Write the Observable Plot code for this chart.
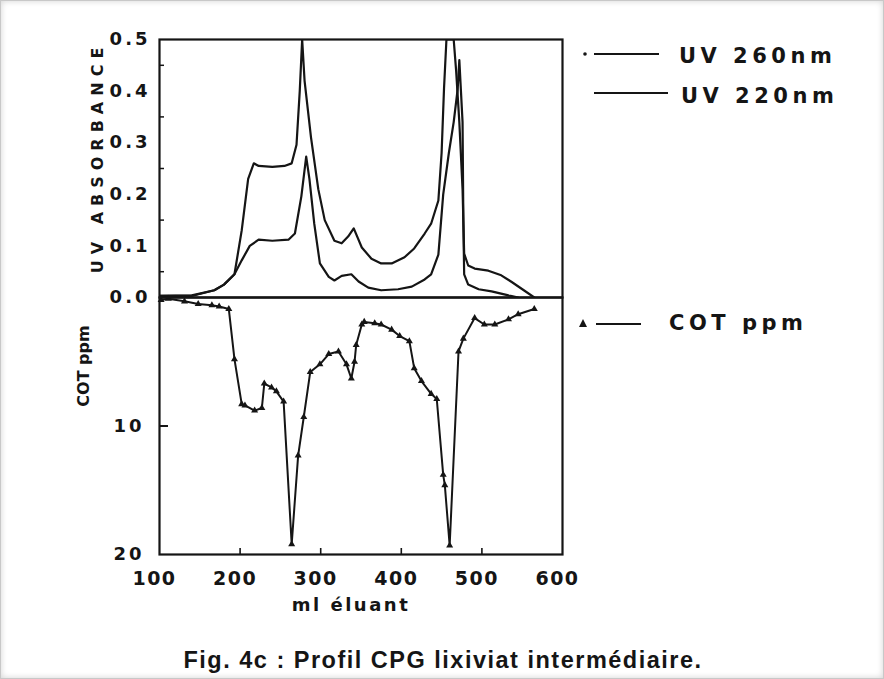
<!DOCTYPE html>
<html>
<head>
<meta charset="utf-8">
<script src="https://cdn.jsdelivr.net/npm/d3@7"></script>
<script src="https://cdn.jsdelivr.net/npm/@observablehq/plot@0.6"></script>
<style>
  html, body { margin: 0; padding: 0; background: #fff; }
  #wrap { position: relative; width: 882px; height: 677px; overflow: hidden; background: #fff;
          border: 1px solid #c8c8c8; box-shadow: inset 0 0 6px rgba(0,0,0,0.18);
          font-family: "DejaVu Sans", sans-serif; color: #151515; }
  #wrap > svg { position: absolute; left: 0; top: 0; overflow: visible; }
  g[aria-label="y-axis tick label"] text { letter-spacing: 3px; }
  g[aria-label="x-axis tick label"] text { letter-spacing: 1.5px; }
  .legend text { font-family: "DejaVu Sans", sans-serif; font-weight: bold; font-size: 21px; letter-spacing: 4.5px; fill: #151515; }
  #caption { position: absolute; left: 0; width: 884px; top: 646px; text-align: center;
             font-family: "Liberation Sans", Arial, sans-serif; font-weight: bold; font-size: 23.5px; letter-spacing: 1.5px; color: #151515; }
</style>
</head>
<body>
<div id="wrap"></div>
<script>
// ---- data ----
const xTicks = [100, 200, 300, 400, 500, 600];
const xInnerTicks = [200, 300, 400, 500];
const uvTicks = [0, 0.1, 0.2, 0.3, 0.4, 0.5];
const uvMinorTicks = [0.05, 0.15, 0.25, 0.35, 0.45];
const cotTicks = [10, 20];

// UV 220 nm (upper curve)
const ml220 = [100, 140, 168, 180, 193, 202, 210, 217, 223, 240, 255, 264, 270, 274, 277, 280, 288, 297, 305, 317, 326, 334, 341, 351, 363, 375, 388, 404, 416, 429, 437, 446, 450, 453, 456, 465, 468, 472, 476, 478, 483, 491, 508, 524, 537, 552, 565];
const uv220 = [0.003, 0.004, 0.014, 0.025, 0.045, 0.13, 0.23, 0.26, 0.255, 0.253, 0.255, 0.26, 0.296, 0.40, 0.50, 0.42, 0.31, 0.21, 0.15, 0.11, 0.105, 0.118, 0.134, 0.097, 0.075, 0.066, 0.066, 0.078, 0.095, 0.124, 0.143, 0.188, 0.28, 0.405, 0.50, 0.50, 0.44, 0.34, 0.21, 0.085, 0.062, 0.056, 0.052, 0.043, 0.03, 0.014, 0];

// UV 260 nm (lower curve)
const ml260 = [100, 140, 168, 180, 193, 202, 212, 223, 240, 260, 268, 276, 282, 286, 292, 299, 310, 317, 326, 338, 347, 359, 375, 396, 413, 429, 437, 446, 452, 459, 465, 470, 472, 476, 477, 478, 483, 496, 512, 533, 545];
const uv260 = [0.003, 0.003, 0.014, 0.025, 0.045, 0.072, 0.10, 0.112, 0.11, 0.112, 0.124, 0.196, 0.273, 0.23, 0.143, 0.066, 0.04, 0.033, 0.042, 0.045, 0.031, 0.019, 0.014, 0.016, 0.021, 0.035, 0.045, 0.083, 0.20, 0.28, 0.34, 0.405, 0.46, 0.34, 0.147, 0.045, 0.025, 0.016, 0.012, 0.004, 0];

// COT ppm (lower panel, downward)
const mlCot = [102, 111, 131, 148, 165, 174, 186, 193, 202, 206, 218, 227, 230, 239, 245, 254, 264, 272, 279, 287, 299, 310, 322, 332, 338, 342, 344, 351, 354, 367, 375, 388, 398, 410, 416, 425, 437, 444, 452, 454, 460, 471, 477, 491, 503, 516, 533, 545, 565];
const cot = [0.2, 0.1, 0.3, 0.5, 0.6, 0.7, 0.9, 4.8, 8.3, 8.4, 8.8, 8.6, 6.7, 7.0, 7.3, 8.1, 19.2, 12.3, 9.3, 5.8, 5.2, 4.4, 4.2, 5.2, 6.3, 5.0, 3.7, 2.1, 1.9, 2.0, 2.1, 2.5, 3.0, 3.4, 5.5, 6.5, 7.5, 7.9, 13.8, 14.6, 19.3, 4.2, 3.2, 1.6, 2.1, 2.1, 1.7, 1.3, 0.9];

const legendLabels = ["UV 260nm", "UV 220nm", "COT ppm"];
const yLabelTop = "UV ABSORBANCE";
const yLabelBottom = "COT ppm";
const xLabel = "ml éluant";
const captionText = "Fig. 4c : Profil CPG lixiviat intermédiaire.";

// ---- build tables ----
const d220 = ml220.map((x, i) => ({x, y: uv220[i]}));
const d260 = ml260.map((x, i) => ({x, y: uv260[i]}));
const dCot = mlCot.map((x, i) => ({x, y: cot[i]}));

const INK = "#151515";
const common = {
  width: 600,
  marginLeft: 158,
  marginRight: 39,
  style: {background: "transparent", fontFamily: "DejaVu Sans, sans-serif", fontWeight: "bold", fontSize: "17px", color: INK, overflow: "visible"}
};

const topPlot = Plot.plot({
  ...common,
  height: 296,
  marginTop: 38,
  marginBottom: 0,
  x: {domain: [100, 600], axis: null},
  y: {domain: [0, 0.5]},
  marks: [
    Plot.axisY({ticks: uvTicks, tickSize: 0, tickPadding: 9, tickFormat: d => d.toFixed(1), label: null, fontSize: 18}),
    Plot.axisY({ticks: uvMinorTicks, tickSize: -5, fill: "none", label: null, strokeWidth: 1.5}),
    Plot.line(d220, {x: "x", y: "y", stroke: INK, strokeWidth: 2.2, clip: true}),
    Plot.line(d260, {x: "x", y: "y", stroke: INK, strokeWidth: 2.2, clip: true}),
    Plot.frame({stroke: INK, strokeWidth: 2.2}),
    Plot.text([yLabelTop], {frameAnchor: "left", textAnchor: "middle", dx: -62, dy: -11, rotate: -90, fontSize: 16, fill: INK})
  ]
});

const bottomPlot = Plot.plot({
  ...common,
  height: 623,
  marginTop: 296,
  marginBottom: 70,
  x: {domain: [100, 600]},
  y: {domain: [0, 20], reverse: true},
  marks: [
    Plot.axisY({ticks: cotTicks, tickSize: 0, tickPadding: 15, tickFormat: d => String(d), label: null, fontSize: 18}),
    Plot.axisY({ticks: [10], tickSize: -9, fill: "none", label: null, strokeWidth: 2}),
    Plot.axisX({ticks: xTicks, tickSize: 0, tickPadding: 17, tickFormat: d => String(d), label: null, fontSize: 19, dx: -5}),
    Plot.axisX({ticks: xInnerTicks, tickSize: -6, fill: "none", label: null, strokeWidth: 1.6}),
    Plot.line(dCot, {x: "x", y: "y", stroke: INK, strokeWidth: 2}),
    Plot.dot(dCot, {x: "x", y: "y", symbol: "triangle", r: 2.6, fill: INK}),
    Plot.frame({stroke: INK, strokeWidth: 2.2}),
    Plot.text([yLabelBottom], {frameAnchor: "left", textAnchor: "middle", dx: -76, dy: -60, rotate: -90, fontSize: 16, fill: INK}),
    Plot.text([xLabel], {frameAnchor: "bottom", textAnchor: "middle", dx: -10, dy: 56, fontSize: 18, fill: INK})
  ]
});

// letter spacing on the hand-lettered labels
d3.select(topPlot).selectAll("text").filter(function() { return this.textContent === yLabelTop; }).style("letter-spacing", "6px");
d3.select(bottomPlot).selectAll("text").filter(function() { return this.textContent === xLabel; }).style("letter-spacing", "2.5px");

const wrap = document.getElementById("wrap");
wrap.appendChild(topPlot);
wrap.appendChild(bottomPlot);

// ---- legend (right side) ----
const ns = "http://www.w3.org/2000/svg";
const leg = document.createElementNS(ns, "svg");
leg.setAttribute("class", "legend");
leg.setAttribute("width", 884);
leg.setAttribute("height", 679);
function el(tag, attrs, text) {
  const e = document.createElementNS(ns, tag);
  for (const k in attrs) e.setAttribute(k, attrs[k]);
  if (text) e.textContent = text;
  leg.appendChild(e);
  return e;
}
el("circle", {cx: 584, cy: 53, r: 1.8, fill: INK});
el("line", {x1: 593, x2: 658, y1: 53, y2: 53, stroke: INK, "stroke-width": 2});
el("text", {x: 678, y: 62}, legendLabels[0]);
el("line", {x1: 593, x2: 667, y1: 92, y2: 92, stroke: INK, "stroke-width": 2});
el("text", {x: 680, y: 102}, legendLabels[1]);
el("path", {d: "M582,318 L586,326 L578,326 Z", fill: INK});
el("line", {x1: 595, x2: 640, y1: 323, y2: 323, stroke: INK, "stroke-width": 2});
el("text", {x: 668, y: 329}, legendLabels[2]);
wrap.appendChild(leg);

const cap = document.createElement("div");
cap.id = "caption";
cap.textContent = captionText;
wrap.appendChild(cap);
</script>
</body>
</html>
